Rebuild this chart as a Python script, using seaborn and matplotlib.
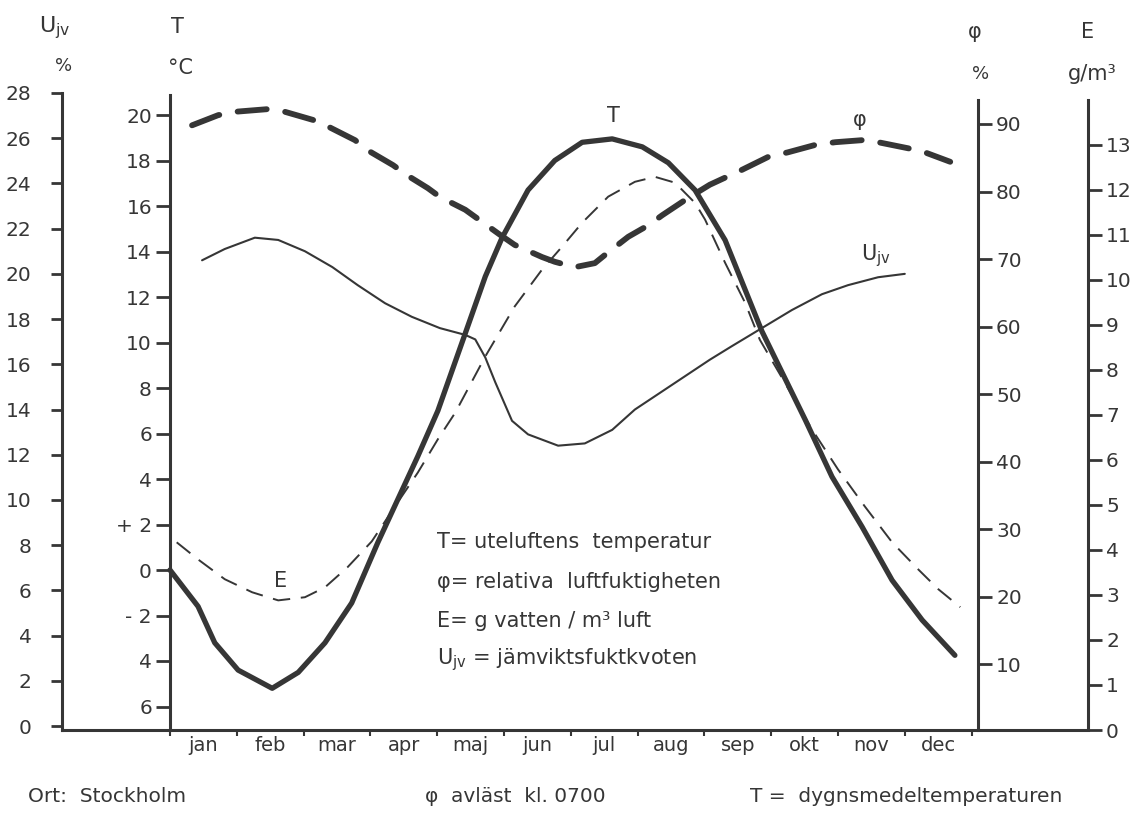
import matplotlib
matplotlib.use("Agg")
import matplotlib.pyplot as plt
import seaborn as sns

# ---------------- data (x in months from 1 Jan) ----------------
months = ["jan", "feb", "mar", "apr", "maj", "jun", "jul", "aug", "sep", "okt", "nov", "dec"]

t_month = [0.00, 0.42, 0.67, 1.02, 1.53, 1.92, 2.32, 2.72, 3.11, 3.41, 3.71, 4.01, 4.42, 4.72,
           4.97, 5.36, 5.76, 6.17, 6.62, 7.07, 7.46, 7.86, 8.31, 8.86, 9.51, 9.91, 10.36, 10.81,
           11.26, 11.75]
t_temp = [0.0, -1.6, -3.2, -4.4, -5.2, -4.5, -3.2, -1.45, 1.2, 3.1, 5.0, 7.0, 10.4, 12.9,
          14.6, 16.7, 18.0, 18.8, 18.95, 18.6, 17.9, 16.7, 14.5, 10.5, 6.6, 4.1, 1.9, -0.45,
          -2.2, -3.75]

phi_month = [0.33, 0.72, 0.97, 1.47, 1.72, 2.14, 2.37, 2.77, 2.96, 3.34, 3.55, 3.86, 4.04, 4.42,
             4.94, 5.16, 5.57, 5.76, 6.06, 6.36, 6.56, 6.86, 7.16, 7.37, 7.75, 8.08, 8.56, 8.95,
             9.25, 9.66, 9.96, 10.36, 10.60, 11.05, 11.30, 11.68]
phi_val = [89.8, 91.3, 91.8, 92.2, 91.8, 90.6, 89.6, 87.6, 86.1, 83.9, 82.4, 80.5, 79.2, 77.3,
           73.6, 72.1, 70.3, 69.6, 68.8, 69.4, 71.0, 73.3, 75.0, 76.5, 79.0, 81.0, 83.2, 85.1,
           85.8, 86.9, 87.3, 87.6, 87.3, 86.4, 85.8, 84.4]

e_month = [0.10, 0.42, 0.82, 1.23, 1.62, 2.02, 2.32, 2.66, 3.02, 3.41, 3.71, 4.01, 4.27, 4.72,
           5.16, 5.57, 5.87, 6.17, 6.56, 6.96, 7.26, 7.56, 7.86, 8.01, 8.31, 8.61, 8.83, 9.61,
           10.00, 10.40, 10.81, 11.20, 11.50, 11.83]
e_val = [4.17, 3.79, 3.35, 3.06, 2.88, 2.95, 3.17, 3.62, 4.19, 5.06, 5.72, 6.46, 7.05, 8.30,
         9.41, 10.23, 10.74, 11.27, 11.85, 12.18, 12.29, 12.16, 11.71, 11.34, 10.38, 9.49, 8.67,
         6.68, 5.79, 4.97, 4.17, 3.57, 3.13, 2.73]

u_month = [0.48, 0.82, 1.27, 1.62, 2.02, 2.43, 2.81, 3.22, 3.62, 4.04, 4.42, 4.57, 4.72, 4.87,
           5.12, 5.36, 5.81, 6.21, 6.62, 6.96, 8.08, 8.41, 8.86, 9.31, 9.76, 10.15, 10.60, 11.00]
u_val = [20.6, 21.1, 21.6, 21.5, 21.0, 20.3, 19.5, 18.7, 18.1, 17.6, 17.3, 17.1, 16.3, 15.2,
         13.5, 12.9, 12.4, 12.5, 13.1, 14.0, 16.2, 16.8, 17.6, 18.4, 19.1, 19.5, 19.85, 20.0]

u_ticks = list(range(0, 29, 2))
t_ticks = [20, 18, 16, 14, 12, 10, 8, 6, 4, 2, 0, -2, -4, -6]
t_tick_labels = ["20", "18", "16", "14", "12", "10", "8", "6", "4", "+ 2", "0", "- 2", "4", "6"]
phi_ticks = [10, 20, 30, 40, 50, 60, 70, 80, 90]
e_ticks = list(range(0, 14))

# ---------------- style ----------------
sns.set_theme(style="ticks")
plt.rcParams["font.family"] = ["DejaVu Sans"]
INK = "#363636"
plt.rcParams["text.color"] = INK

W, H = 1145, 830
fig = plt.figure(figsize=(W / 100, H / 100), dpi=100)
fig.patch.set_facecolor("white")


def fx(px):
    return px / W


def fy(py):
    return 1 - py / H


X0, X1 = 62, 1088          # Ujv axis / E axis
Y_TOP, Y_BOT = 93, 730
X_ORIG, PX_MONTH = 170, 66.8

ax = fig.add_axes([fx(X0), fy(Y_BOT), fx(X1) - fx(X0), fy(Y_TOP) - fy(Y_BOT)])
ax_t = ax.twinx()
ax_phi = ax.twinx()
ax_e = ax.twinx()
for a in (ax, ax_t, ax_phi, ax_e):
    a.patch.set_alpha(0)
    for s in a.spines.values():
        s.set_visible(False)
        s.set_linewidth(2.2)
        s.set_color(INK)

# curves
sns.lineplot(x=u_month, y=u_val, ax=ax, color=INK, lw=1.5, zorder=3)
sns.lineplot(x=t_month, y=t_temp, ax=ax_t, color=INK, lw=3.8, zorder=4,
             solid_capstyle="round", solid_joinstyle="round")
sns.lineplot(x=phi_month, y=phi_val, ax=ax_phi, color=INK, lw=4.2, zorder=4,
             linestyle=(0, (5, 3.2)), dash_capstyle="round", dash_joinstyle="round")
sns.lineplot(x=e_month, y=e_val, ax=ax_e, color=INK, lw=1.4, zorder=3,
             linestyle=(0, (9, 5.5)))

xlim = ((X0 - X_ORIG) / PX_MONTH, (X1 - X_ORIG) / PX_MONTH)
ax.set_xlim(*xlim)

# y scales
ax.set_ylim(-(Y_BOT - 726) / 22.61, 28 + (93 - Y_TOP) / 22.61)
ax_t.set_ylim(-(Y_BOT - 570) / 22.75, (570 - Y_TOP) / 22.75)
ax_phi.set_ylim((732 - Y_BOT) / 6.756, (732 - Y_TOP) / 6.756)
ax_e.set_ylim((731 - Y_BOT) / 45.08, (731 - Y_TOP) / 45.08)

# Ujv axis (left)
ax.spines["left"].set_visible(True)
ax.spines["left"].set_bounds(ax.get_ylim()[0], 28)
ax.spines["bottom"].set_visible(True)
ax.set_yticks(u_ticks)
ax.tick_params(axis="y", direction="out", length=8, width=2, pad=14, labelsize=14.5,
               colors=INK, left=True)

# x axis
ax.set_xticks(range(0, 13))
ax.set_xticklabels([""] * 13)
ax.set_xticks([m + 0.5 for m in range(12)], minor=True)
ax.set_xticklabels(months, minor=True)
ax.tick_params(axis="x", which="major", direction="out", length=4, width=1.5, colors=INK,
               bottom=True)
ax.tick_params(axis="x", which="minor", length=0, pad=4, labelsize=14, labelcolor=INK)

# T axis
ax_t.spines["left"].set_visible(True)
ax_t.spines["left"].set_position(("data", 0))
ax_t.spines["left"].set_bounds(ax_t.get_ylim()[0], 20.9)
ax_t.yaxis.tick_left()
ax_t.set_yticks(t_ticks)
ax_t.set_yticklabels(t_tick_labels)
ax_t.tick_params(axis="y", direction="out", length=10, width=2, pad=3, labelsize=14.5,
                 colors=INK)

# phi axis
phi_x = (978 - X_ORIG) / PX_MONTH
ax_phi.spines["right"].set_visible(True)
ax_phi.spines["right"].set_position(("data", phi_x))
ax_phi.spines["right"].set_bounds(ax_phi.get_ylim()[0], 93.5)
ax_phi.yaxis.tick_right()
ax_phi.set_yticks(phi_ticks)
ax_phi.tick_params(axis="y", direction="out", length=10, width=2, pad=3, labelsize=14.5,
                   colors=INK)

# E axis
ax_e.spines["right"].set_visible(True)
ax_e.spines["right"].set_bounds(ax_e.get_ylim()[0], 14.0)
ax_e.yaxis.tick_right()
ax_e.set_yticks(e_ticks)
ax_e.tick_params(axis="y", direction="out", length=10, width=2, pad=3, labelsize=14.5,
                 colors=INK)

for a in (ax, ax_t, ax_phi, ax_e):
    a.set_xlabel("")
    a.set_ylabel("")

# ---------------- texts ----------------
FS = 15
sub = r"U$_{\mathregular{jv}}$"
fig.text(fx(55), fy(28), sub, fontsize=16, ha="center", va="center")
fig.text(fx(64), fy(66), "%", fontsize=13, ha="center", va="center")
fig.text(fx(177), fy(27), "T", fontsize=FS, ha="center", va="center")
fig.text(fx(180), fy(68), "°C", fontsize=FS, ha="center", va="center")
fig.text(fx(975), fy(32), "φ", fontsize=FS, ha="center", va="center")
fig.text(fx(981), fy(74), "%", fontsize=13, ha="center", va="center")
fig.text(fx(1088), fy(32), "E", fontsize=FS, ha="center", va="center")
fig.text(fx(1092), fy(74), "g/m³", fontsize=FS, ha="center", va="center")

# curve labels
fig.text(fx(613), fy(116), "T", fontsize=FS, ha="center", va="center")
fig.text(fx(860), fy(120), "φ", fontsize=FS, ha="center", va="center")
fig.text(fx(876), fy(256), sub, fontsize=FS, ha="center", va="center")
fig.text(fx(281), fy(581), "E", fontsize=FS, ha="center", va="center")

# explanation block
rows = ["T= uteluftens  temperatur",
        "φ= relativa  luftfuktigheten",
        "E= g vatten / m³ luft",
        sub + " = jämviktsfuktkvoten"]
for py, txt in zip([542, 582, 621, 660], rows):
    fig.text(fx(437), fy(py), txt, fontsize=FS, ha="left", va="center")

# footer
fig.text(fx(28), fy(796), "Ort:  Stockholm", fontsize=14.5, ha="left", va="center")
fig.text(fx(425), fy(796), "φ  avläst  kl. 0700", fontsize=14.5, ha="left", va="center")
fig.text(fx(750), fy(796), "T =  dygnsmedeltemperaturen", fontsize=14.5, ha="left",
         va="center")

fig.savefig("out.png", dpi=100, facecolor="white")
